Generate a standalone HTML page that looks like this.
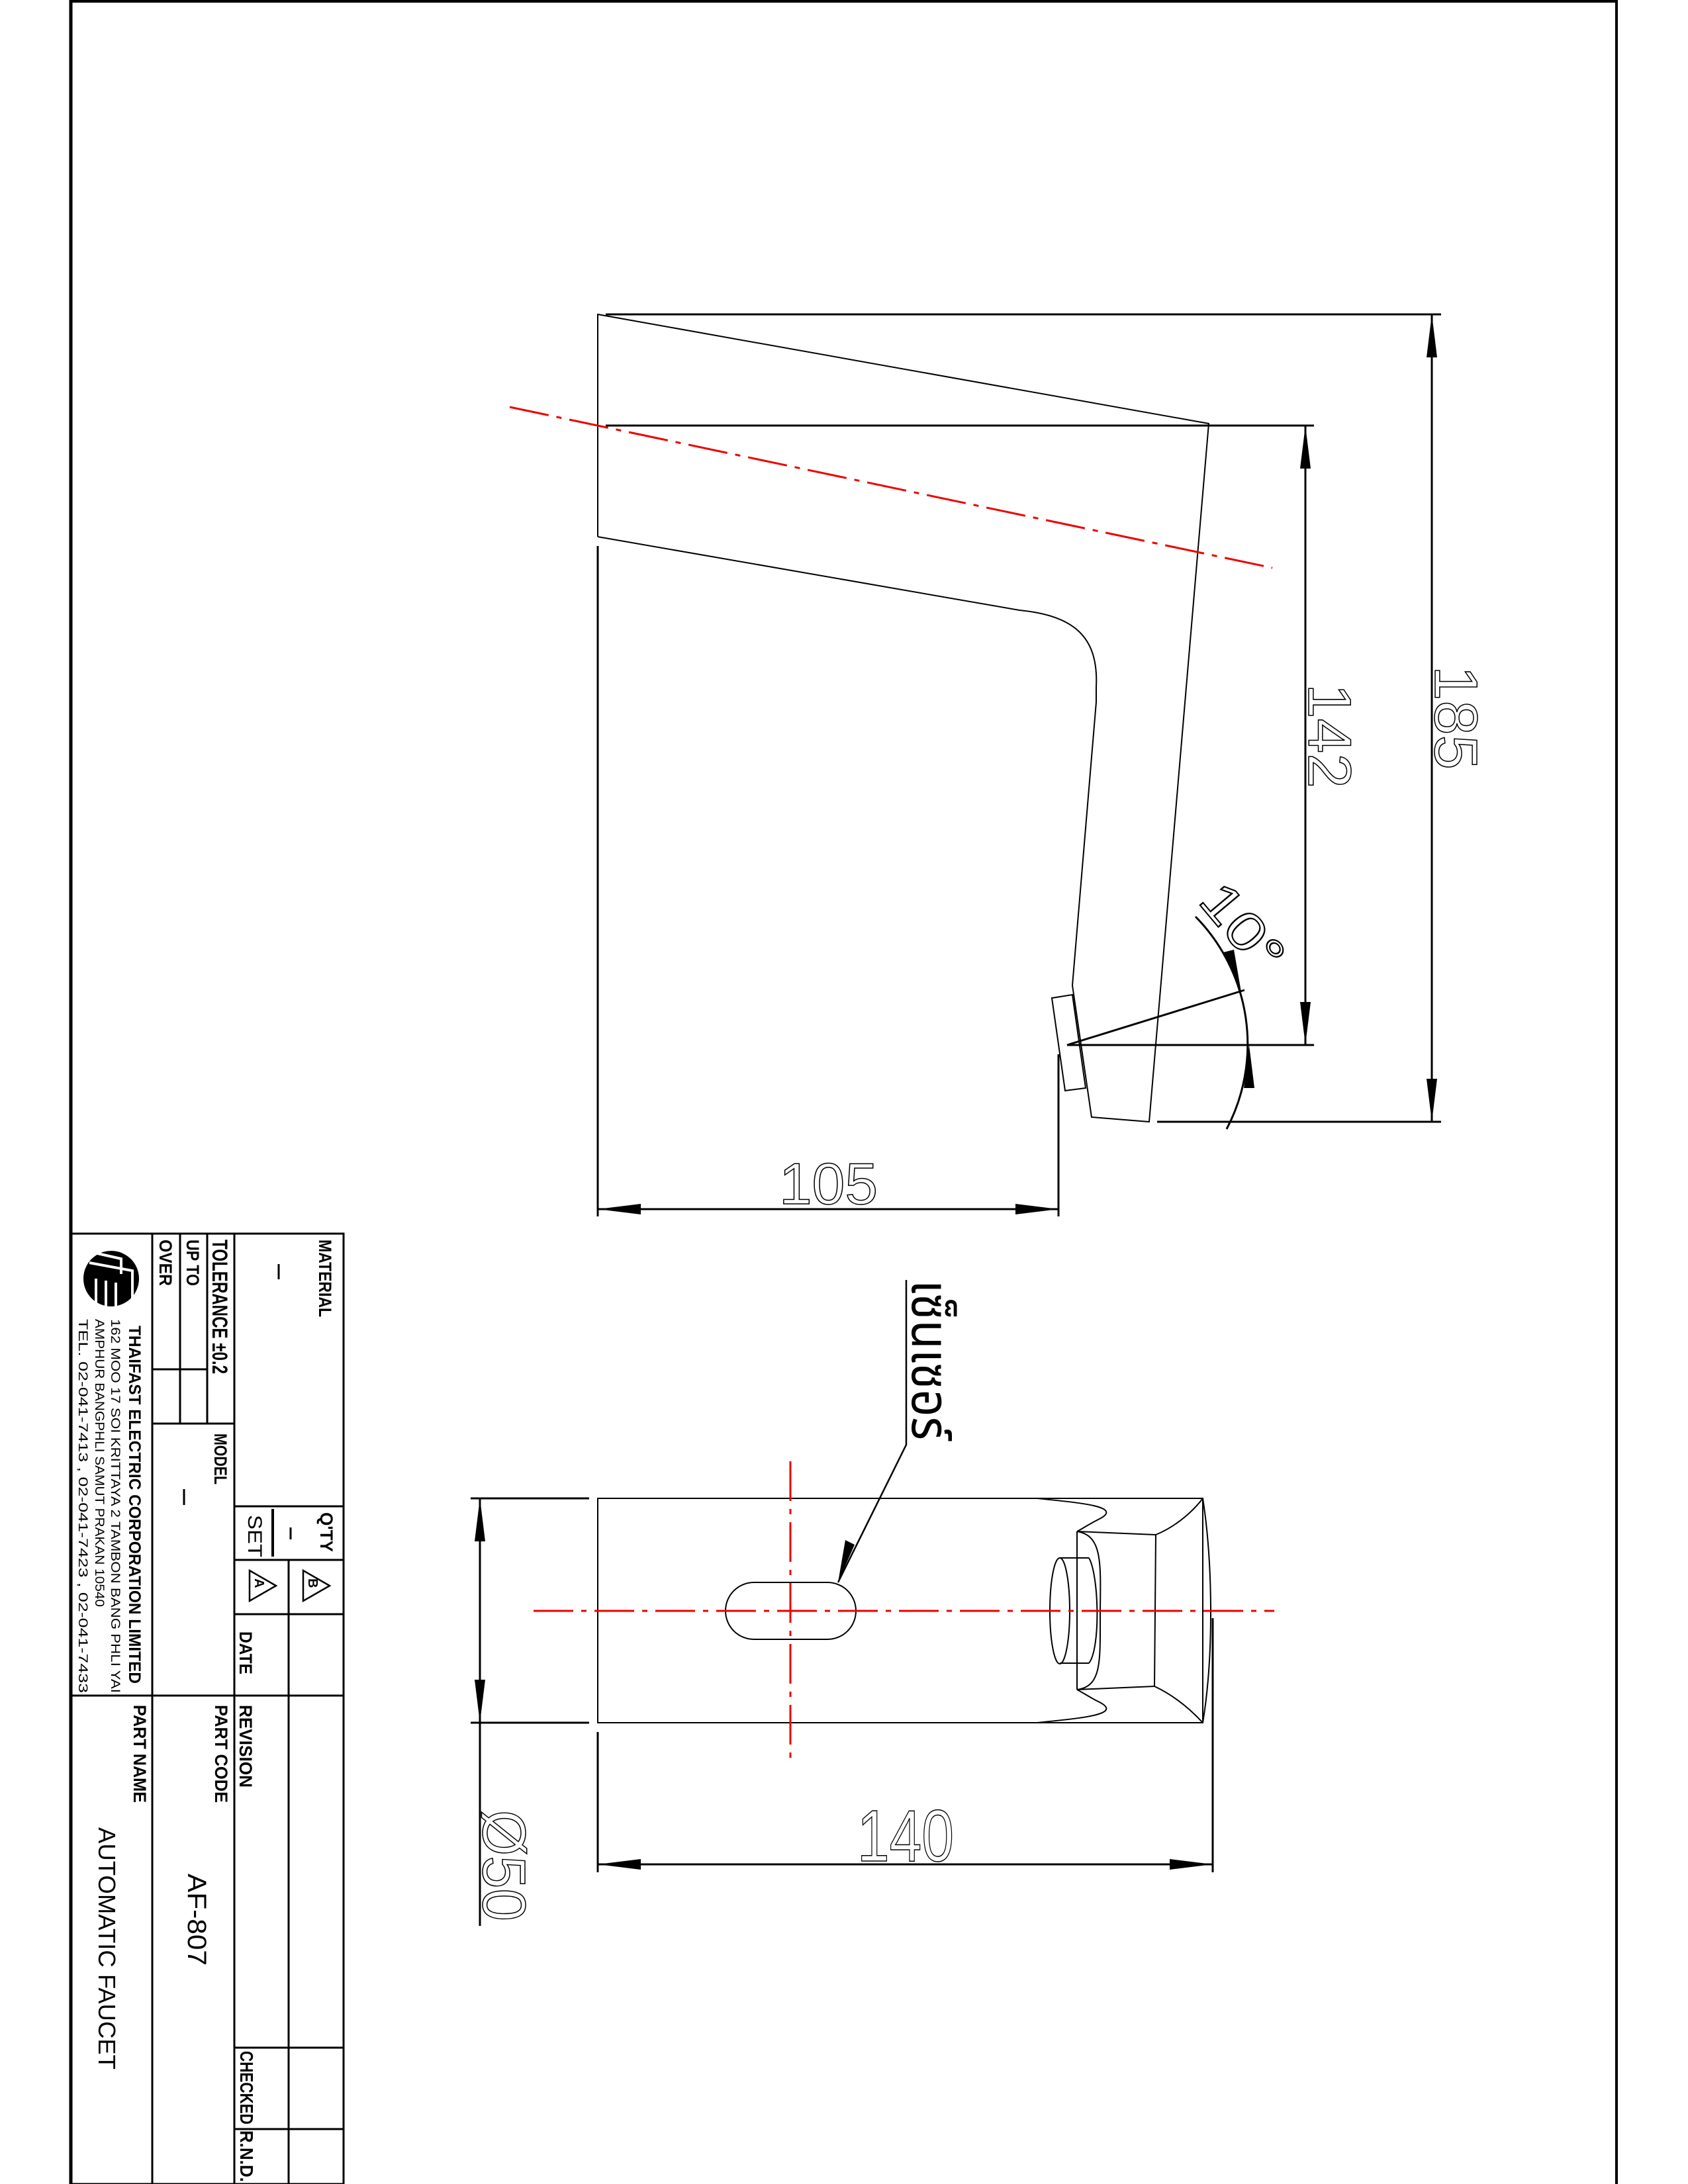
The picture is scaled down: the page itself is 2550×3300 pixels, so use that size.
<!DOCTYPE html>
<html><head><meta charset="utf-8"><style>
html,body{margin:0;padding:0;background:#fff;}
svg{display:block;}
text{font-family:"Liberation Sans","DejaVu Sans",sans-serif;}
.t{font-family:"Liberation Sans Narrow","Liberation Sans",sans-serif;font-weight:bold;}
</style></head><body>
<svg width="2550" height="3300" viewBox="0 0 2550 3300" xmlns="http://www.w3.org/2000/svg">
<rect width="2550" height="3300" fill="#fff"/>
<g stroke="#000" fill="none">
<line x1="107" y1="2" x2="2442" y2="2" stroke-width="4"/>
<line x1="2442" y1="0" x2="2442" y2="3300" stroke-width="4"/>
<line x1="107" y1="0" x2="107" y2="3300" stroke-width="5"/>
</g>

<g stroke="#000" fill="none" stroke-width="2">
<polyline points="903,811 903,475 1826,640 1736,1695 1649,1688 1620,1489 1656,1061 1656,1038"/>
<path d="M1656,1038 C1660,960 1620,930 1540,922 L903,811"/>
<polygon points="1589,1508 1620,1503 1640,1644 1609,1648"/>
</g>
<g stroke="#000" fill="none" stroke-width="3">
<line x1="915" y1="475" x2="2177" y2="475"/>
<line x1="915" y1="643" x2="1985" y2="643"/>
<line x1="1612" y1="1579" x2="1985" y2="1579"/>
<line x1="1748" y1="1695" x2="2177" y2="1695"/>
<line x1="903" y1="825" x2="903" y2="1838"/>
<line x1="1599" y1="1593" x2="1599" y2="1838"/>
<line x1="903" y1="1827" x2="1599" y2="1827"/>
<line x1="1972" y1="643" x2="1972" y2="1579"/>
<line x1="2163" y1="475" x2="2163" y2="1695"/>
<line x1="1612" y1="1579" x2="1880" y2="1496"/>
<path d="M1806,1385 A275 275 0 0 1 1853,1706"/>
</g>
<g fill="#000">
<polygon points="903,1827 968,1819 968,1835"/>
<polygon points="1599,1827 1534,1819 1534,1835"/>
<polygon points="1972,643 1964,708 1980,708"/>
<polygon points="1972,1579 1964,1514 1980,1514"/>
<polygon points="2163,475 2155,540 2171,540"/>
<polygon points="2163,1695 2155,1630 2171,1630"/>
<polygon points="1875,1499 1864,1435 1848,1439"/>
<polygon points="1887,1579 1879,1644 1895,1644"/>
</g>
<line x1="770" y1="615" x2="1922" y2="858" stroke="#e00" stroke-width="3" stroke-dasharray="60 12 8 12"/>
<text x="1177" y="1819" font-size="88" textLength="149" lengthAdjust="spacingAndGlyphs" fill="none" stroke="#000" stroke-width="1.5">105</text>
<text x="1977" y="1033" font-size="92" textLength="158" lengthAdjust="spacingAndGlyphs" fill="none" stroke="#000" stroke-width="1.5" transform="rotate(90 1977 1033)">142</text>
<text x="2168" y="1006" font-size="92" textLength="157" lengthAdjust="spacingAndGlyphs" fill="none" stroke="#000" stroke-width="1.5" transform="rotate(90 2168 1006)">185</text>
<text x="1808" y="1362" font-size="80" textLength="150" lengthAdjust="spacingAndGlyphs" fill="none" stroke="#000" stroke-width="2" transform="rotate(50 1808 1362)">10°</text>

<g stroke="#000" fill="none" stroke-width="2">
<rect x="903" y="2264" width="914" height="339"/>
<rect x="1096" y="2391" width="197" height="86" rx="43" ry="43"/>
<path d="M1567,2264 C1620,2270 1700,2275 1661,2295 C1645,2303 1635,2310 1627,2314"/>
<path d="M1567,2603 C1620,2597 1700,2592 1661,2572 C1645,2564 1635,2557 1627,2553"/>
<line x1="1627" y1="2314" x2="1627" y2="2553"/>
<line x1="1627" y1="2314" x2="1746" y2="2319"/>
<line x1="1627" y1="2553" x2="1744" y2="2548"/>
<path d="M1746,2319 C1780,2305 1805,2280 1817,2264"/>
<path d="M1744,2548 C1780,2565 1805,2590 1817,2603"/>
<line x1="1746" y1="2319" x2="1744" y2="2548"/>
<path d="M1627,2314 C1665,2320 1663,2360 1662,2434 C1662,2510 1665,2548 1627,2553"/>
<ellipse cx="1601" cy="2434" rx="15" ry="80"/>
<path d="M1645,2354 C1660,2380 1663,2490 1645,2513"/>
<line x1="1601" y1="2354" x2="1645" y2="2354"/>
<line x1="1601" y1="2513" x2="1645" y2="2513"/>
<path d="M1817,2264 C1832,2360 1834,2500 1817,2603"/>
</g>
<g stroke="#000" fill="none" stroke-width="3">
<line x1="711" y1="2264" x2="890" y2="2264"/>
<line x1="711" y1="2603" x2="890" y2="2603"/>
<line x1="725" y1="2264" x2="725" y2="2910"/>
<line x1="903" y1="2617" x2="903" y2="2829"/>
<line x1="1832" y1="2445" x2="1832" y2="2829"/>
<line x1="903" y1="2817" x2="1832" y2="2817"/>
<polyline points="1369,1934 1369,2183 1266,2391" stroke-width="2.5"/>
</g>
<g fill="#000">
<polygon points="725,2264 717,2329 733,2329"/>
<polygon points="725,2603 717,2538 733,2538"/>
<polygon points="903,2817 968,2809 968,2825"/>
<polygon points="1832,2817 1767,2809 1767,2825"/>
<polygon points="1266,2391 1277,2327 1291,2334"/>
</g>
<g stroke="#e00" stroke-width="3" stroke-dasharray="60 12 8 12">
<line x1="806" y1="2434" x2="1925" y2="2434"/>
<line x1="1194" y1="2208" x2="1194" y2="2661"/>
</g>
<text x="1295" y="2812" font-size="110" textLength="146" lengthAdjust="spacingAndGlyphs" fill="none" stroke="#000" stroke-width="1.5">140</text>
<text x="730" y="2735" font-size="92" textLength="168" lengthAdjust="spacingAndGlyphs" fill="none" stroke="#000" stroke-width="1.5" transform="rotate(90 730 2735)">Ø50</text>
<text x="1378" y="1934" font-size="80" textLength="242" lengthAdjust="spacingAndGlyphs" fill="#000" style="font-family:'Noto Sans Thai','Garuda','Loma','Norasi','DejaVu Sans',sans-serif" transform="rotate(90 1378 1934)">เซ็นเซอร์</text>

<g stroke="#000" fill="none" stroke-width="3">
<rect x="107" y="1864" width="412" height="1436"/>
<line x1="230" y1="1864" x2="230" y2="3300"/>
<line x1="354" y1="1864" x2="354" y2="3300"/>
<line x1="436" y1="2357" x2="436" y2="3300"/>
<line x1="272" y1="1864" x2="272" y2="2151"/>
<line x1="313" y1="1864" x2="313" y2="2151"/>
<line x1="230" y1="2069" x2="313" y2="2069"/>
<line x1="230" y1="2151" x2="354" y2="2151"/>
<line x1="354" y1="2276" x2="519" y2="2276"/>
<line x1="354" y1="2357" x2="519" y2="2357"/>
<line x1="354" y1="2439" x2="519" y2="2439"/>
<line x1="107" y1="2562" x2="519" y2="2562"/>
<line x1="354" y1="3094" x2="519" y2="3094"/>
<line x1="354" y1="3217" x2="519" y2="3217"/>
<line x1="412" y1="2280" x2="412" y2="2352" stroke-width="4"/>
<line x1="421" y1="1910" x2="421" y2="1933"/>
<line x1="278" y1="2250" x2="278" y2="2274"/>
<line x1="439" y1="2308" x2="439" y2="2326"/>
<polygon points="377,2373 377,2419 417,2396" stroke-width="2.5"/>
<polygon points="458,2373 458,2419 498,2396" stroke-width="2.5"/>
</g>
<g class="t" fill="#000">
<text x="482" y="1873" font-size="27" textLength="117" lengthAdjust="spacingAndGlyphs" transform="rotate(90 482 1873)">MATERIAL</text>
<text x="321" y="1873" font-size="32" textLength="203" lengthAdjust="spacingAndGlyphs" transform="rotate(90 321 1873)">TOLERANCE ±0.2</text>
<text x="282" y="1873" font-size="27" textLength="70" lengthAdjust="spacingAndGlyphs" transform="rotate(90 282 1873)">UP TO</text>
<text x="241" y="1873" font-size="27" textLength="70" lengthAdjust="spacingAndGlyphs" transform="rotate(90 241 1873)">OVER</text>
<text x="324" y="2166" font-size="27" textLength="77" lengthAdjust="spacingAndGlyphs" transform="rotate(90 324 2166)">MODEL</text>
<text x="484" y="2285" font-size="27" textLength="60" lengthAdjust="spacingAndGlyphs" transform="rotate(90 484 2285)">Q'TY</text>
<text x="375" y="2289" font-size="30" textLength="64" lengthAdjust="spacingAndGlyphs" font-weight="normal" transform="rotate(90 375 2289)">SET</text>
<text x="385" y="2385" font-size="20" transform="rotate(90 385 2385)">A</text>
<text x="466" y="2385" font-size="20" transform="rotate(90 466 2385)">B</text>
<text x="362" y="2465" font-size="27" textLength="65" lengthAdjust="spacingAndGlyphs" transform="rotate(90 362 2465)">DATE</text>
<text x="362" y="2576" font-size="27" textLength="125" lengthAdjust="spacingAndGlyphs" transform="rotate(90 362 2576)">REVISION</text>
<text x="325" y="2576" font-size="27" textLength="148" lengthAdjust="spacingAndGlyphs" transform="rotate(90 325 2576)">PART CODE</text>
<text x="202" y="2576" font-size="27" textLength="148" lengthAdjust="spacingAndGlyphs" transform="rotate(90 202 2576)">PART NAME</text>
<text x="363" y="3099" font-size="28" textLength="111" lengthAdjust="spacingAndGlyphs" transform="rotate(90 363 3099)">CHECKED</text>
<text x="363" y="3219" font-size="28" textLength="78" lengthAdjust="spacingAndGlyphs" transform="rotate(90 363 3219)">R.N.D.</text>
<text x="195" y="2003" font-size="25" textLength="541" lengthAdjust="spacingAndGlyphs" transform="rotate(90 195 2003)">THAIFAST ELECTRIC CORPORATION LIMITED</text>
</g>
<g fill="#000" style="font-family:'Liberation Sans Narrow','Liberation Sans',sans-serif">
<text x="284" y="2831" font-size="40" textLength="139" lengthAdjust="spacingAndGlyphs" transform="rotate(90 284 2831)">AF-807</text>
<text x="149" y="2761" font-size="36" textLength="366" lengthAdjust="spacingAndGlyphs" transform="rotate(90 149 2761)">AUTOMATIC FAUCET</text>
<text x="168" y="1993" font-size="19" textLength="565" lengthAdjust="spacingAndGlyphs" transform="rotate(90 168 1993)">162 MOO 17 SOI KRITTAYA 2 TAMBON BANG PHLI YAI</text>
<text x="144" y="1993" font-size="19" textLength="435" lengthAdjust="spacingAndGlyphs" transform="rotate(90 144 1993)">AMPHUR BANGPHLI SAMUT PRAKAN 10540</text>
<text x="119" y="1993" font-size="19" textLength="565" lengthAdjust="spacingAndGlyphs" transform="rotate(90 119 1993)">TEL. 02-041-7413 , 02-041-7423 , 02-041-7433</text>
</g>
<circle cx="168" cy="1932" r="42" fill="#000"/>
<g stroke="#fff" stroke-width="4" fill="none">
<polyline points="135,1908 200,1920 200,1975"/>
<polyline points="143,1893 183,1902 183,1925"/>
<line x1="145" y1="1932" x2="145" y2="1975"/>
<line x1="160" y1="1935" x2="160" y2="1978"/>
<line x1="175" y1="1938" x2="175" y2="1978"/>
</g>
</svg>
</body></html>
